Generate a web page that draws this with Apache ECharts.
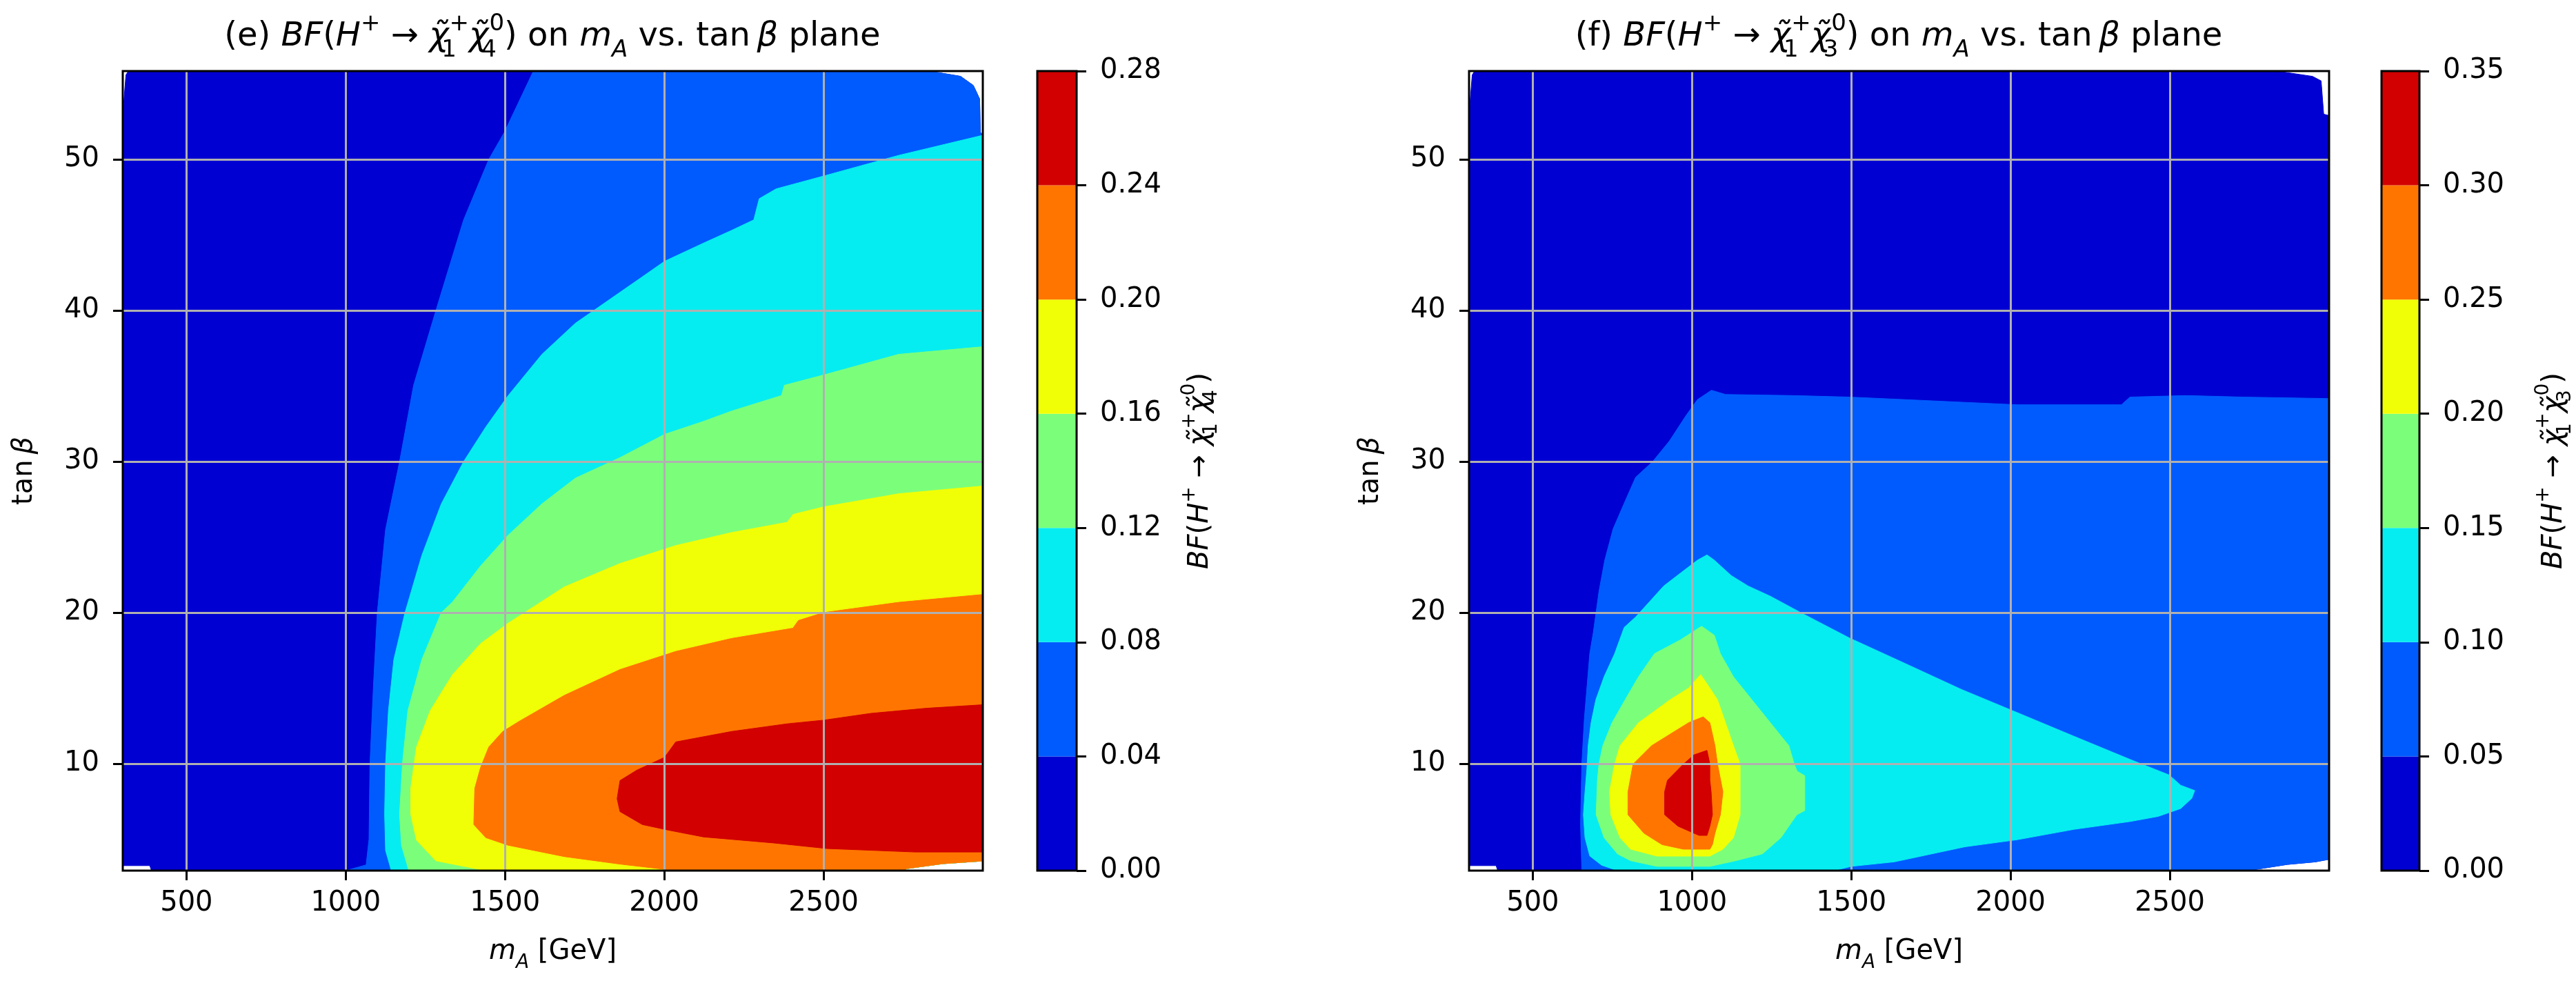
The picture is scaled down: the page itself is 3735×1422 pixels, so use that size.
<!DOCTYPE html>
<html>
<head>
<meta charset="utf-8">
<script src="https://cdn.jsdelivr.net/npm/echarts@6/dist/echarts.min.js"></script>
<style>
    html, body { margin: 0; padding: 0; background: #fff; }
    #main { width: 3735px; height: 1422px; }
</style>
</head>
<body>
<div id="main"></div>
<script>
// 色带 (jet, 7 段)
const bandColors = ['#0000d2', '#005bff', '#06edf1', '#7bff7b', '#f1ff06', '#ff7500', '#d20000'];
const levelsE = [0, 0.04, 0.08, 0.12, 0.16, 0.20, 0.24, 0.28];
const levelsF = [0, 0.05, 0.10, 0.15, 0.20, 0.25, 0.30, 0.35];
const xTicks = [500, 1000, 1500, 2000, 2500];
const yTicks = [10, 20, 30, 40, 50];

// (e) 等高线区域边界 [mA, tanβ]，BF >= 各级
const eBase = [[318, 55.85], [2831, 55.85], [2930, 55.5], [2970, 54.9], [2990, 54.0], [2992, 51.8], [3000, 51.6],
    [3000, 3.56], [2875, 3.38], [2760, 3.05], [2753, 2.92], [390, 2.92], [385, 3.25], [302, 3.25], [302, 53.5], [310, 55.6]];
const e004 = [[1589, 55.85], [1498, 51.8], [1449, 50], [1370, 46.0], [1283, 40], [1213, 35.05], [1169, 30], [1125, 25.5],
    [1099, 20], [1087, 15.2], [1076, 10], [1073, 5.0], [1064, 3.3], [1000, 2.92], [2753, 2.92], [2760, 3.05], [2875, 3.38],
    [3000, 3.56], [3000, 51.6], [2992, 51.8], [2990, 54.0], [2970, 54.9], [2930, 55.5], [2831, 55.85]];
const e008 = [[3000, 51.6], [2736, 50.27], [2500, 48.9], [2351, 48.05], [2298, 47.4], [2281, 46.0], [2211, 45.3], [2123, 44.46],
    [2001, 43.26], [1931, 42.23], [1791, 40.18], [1721, 39.16], [1616, 37.1], [1510, 34.37], [1440, 32.3], [1370, 30],
    [1300, 27.2], [1239, 23.8], [1186, 20], [1151, 16.9], [1134, 13.5], [1125, 10], [1122, 6.65], [1125, 4.26], [1143, 2.92],
    [2753, 2.92], [2760, 3.05], [2875, 3.38], [3000, 3.56]];
const e012 = [[3000, 37.6], [2736, 37.1], [2500, 35.73], [2377, 35.05], [2368, 34.37], [2211, 33.34], [2123, 32.66],
    [2001, 31.8], [1861, 30.26], [1721, 28.9], [1616, 27.2], [1510, 25.13], [1423, 23.08], [1335, 20.7], [1300, 20],
    [1239, 16.9], [1195, 13.5], [1178, 10], [1169, 6.65], [1175, 4.6], [1198, 2.92],
    [2753, 2.92], [2760, 3.05], [2875, 3.38], [3000, 3.56]];
const e016 = [[3000, 28.38], [2736, 27.87], [2500, 27.0], [2404, 26.5], [2386, 25.98], [2211, 25.3], [2036, 24.44],
    [1861, 23.25], [1686, 21.7], [1510, 19.3], [1423, 17.94], [1335, 15.89], [1265, 13.5], [1222, 11.1], [1204, 8.36],
    [1204, 6.65], [1222, 4.94], [1283, 3.57], [1440, 2.92],
    [2753, 2.92], [2760, 3.05], [2875, 3.38], [3000, 3.56]];
const e020 = [[3000, 21.2], [2736, 20.68], [2500, 20.0], [2421, 19.48], [2404, 18.97], [2211, 18.29], [2036, 17.43],
    [1861, 16.23], [1686, 14.52], [1545, 12.81], [1493, 12.13], [1449, 11.1], [1423, 9.73], [1405, 8.36], [1402, 5.97],
    [1440, 5.1], [1510, 4.6], [1686, 3.85], [1861, 3.35], [2036, 2.92],
    [2753, 2.92], [2760, 3.05], [2875, 3.38], [3000, 3.56]];
const e024 = [[3000, 13.9], [2824, 13.67], [2649, 13.33], [2500, 12.88], [2386, 12.64], [2211, 12.13], [2036, 11.44],
    [2001, 10.42], [1913, 9.56], [1861, 8.88], [1852, 7.68], [1861, 6.83], [1931, 5.97], [2013, 5.6], [2123, 5.15],
    [2344, 4.75], [2511, 4.38], [2788, 4.15], [3000, 4.15]];

// (f) 等高线区域边界
const fBase = [[318, 55.86], [2833, 55.86], [2948, 55.5], [2975, 55.2], [2983, 53.0], [3000, 52.9],
    [3000, 3.67], [2957, 3.5], [2869, 3.33], [2745, 2.92], [390, 2.92], [385, 3.25], [302, 3.25], [302, 53.5], [310, 55.6]];
const f005 = [[654, 2.92], [650, 6], [654, 10], [662, 13], [679, 17.3], [690, 18.68], [708, 21.42], [726, 23.47],
    [752, 25.53], [787, 27.24], [823, 28.96], [876, 29.99], [929, 31.36], [982, 33.07], [1017, 34.1], [1061, 34.72],
    [1105, 34.44], [1317, 34.37], [1493, 34.27], [1670, 34.1], [1846, 33.93], [2022, 33.76], [2198, 33.76], [2348, 33.76],
    [2375, 34.27], [2551, 34.37], [2728, 34.27], [3000, 34.17], [3000, 3.67], [2957, 3.5], [2869, 3.33], [2745, 2.92]];
const f010 = [[766, 2.92], [716, 3.28], [679, 3.89], [664, 5.1], [659, 6.62], [664, 8.14], [670, 9.67], [674, 11.2],
    [683, 12.71], [698, 14.23], [724, 15.76], [757, 17.28], [787, 19.02], [823, 19.71], [867, 20.73], [911, 21.76],
    [964, 22.62], [1017, 23.47], [1047, 23.82], [1070, 23.47], [1123, 22.45], [1176, 21.76], [1246, 21.08], [1352, 19.88],
    [1493, 18.33], [1670, 16.62], [1846, 14.91], [2022, 13.37], [2198, 11.82], [2375, 10.28], [2498, 9.25], [2534, 8.57],
    [2578, 8.22], [2569, 7.71], [2534, 7.03], [2463, 6.51], [2375, 6.17], [2198, 5.65], [2022, 4.97], [1857, 4.5],
    [1635, 3.5], [1500, 3.2], [1445, 2.92]];
const f015 = [[1030, 19.1], [1070, 18.5], [1089, 17.28], [1130, 15.75], [1188, 14.23], [1246, 12.71], [1304, 11.19],
    [1321, 9.97], [1330, 9.5], [1354, 9.2], [1354, 6.9], [1329, 6.62], [1279, 5.1], [1221, 4.03], [1138, 3.58], [1056, 3.2],
    [890, 3.2], [807, 3.58], [766, 4.03], [724, 5.1], [699, 6.62], [703, 8.9], [708, 9.97], [720, 11.19], [749, 12.71],
    [790, 14.23], [832, 15.75], [882, 17.28], [964, 18.2]];
const f020 = [[1027, 15.9], [1056, 15.0], [1080, 14.23], [1105, 12.71], [1130, 11.19], [1151, 9.97], [1151, 8.14],
    [1151, 6.62], [1130, 5.1], [1097, 4.34], [1056, 3.88], [890, 3.88], [807, 4.34], [774, 5.1], [745, 6.62], [741, 8.14],
    [757, 9.97], [774, 11.19], [832, 12.71], [931, 14.23], [989, 15.0]];
const f025 = [[1035, 13.1], [1056, 12.71], [1072, 11.19], [1080, 9.97], [1097, 8.14], [1089, 6.62], [1072, 5.4],
    [1064, 4.64], [1056, 4.34], [973, 4.34], [906, 4.64], [849, 5.4], [799, 6.62], [799, 8.14], [815, 9.97], [873, 11.19],
    [989, 12.71]];
const f030 = [[1047, 10.88], [1056, 9.97], [1056, 8.9], [1060, 8.14], [1064, 6.62], [1056, 5.86], [1047, 5.25],
    [1022, 5.25], [956, 5.86], [914, 6.62], [914, 8.14], [923, 8.9], [973, 9.97], [1006, 10.58]];

const polysE = [eBase, e004, e008, e012, e016, e020, e024];
const polysF = [fBase, f005, f010, f015, f020, f025, f030];

const FONT = 'DejaVu Sans';

// 富文本样式 (上下标)
function richStyles(fs) {
    const lh = Math.round(fs * 1.5);
    const small = Math.round(fs * 0.7);
    const slh = lh - Math.round(fs * 0.66);
    const base = { fontFamily: FONT, color: '#000' };
    return {
        n: Object.assign({ fontSize: fs, lineHeight: lh }, base),
        i: Object.assign({ fontSize: fs, lineHeight: lh, fontStyle: 'italic' }, base),
        sup: Object.assign({ fontSize: small, lineHeight: slh, verticalAlign: 'top' }, base),
        subw: Object.assign({ fontSize: small, lineHeight: slh, verticalAlign: 'bottom', width: 1 }, base),
        subi: Object.assign({ fontSize: small, lineHeight: slh, verticalAlign: 'bottom', fontStyle: 'italic' }, base)
    };
}

function bfText(n) {
    return '{i|BF}{n|(}{i|H}{sup|+}{n| → }{i|χ\u0303}{subw|1}{sup|+}{i|χ\u0303}{subw|' + n + '}{sup|0}{n|)}';
}

const titleE = '{n|(e) }' + bfText(4) + '{n| on }{i|m}{subi|A}{n| vs. tan}{i|\u2009β}{n| plane}';
const titleF = '{n|(f) }' + bfText(3) + '{n| on }{i|m}{subi|A}{n| vs. tan}{i|\u2009β}{n| plane}';

const tickStyle = { show: true, length: 14, inside: false, lineStyle: { color: '#000', width: 3 } };

function plotXAxis(gridIndex) {
    return {
        type: 'value', gridIndex, min: 300, max: 3000, z: 5,
        name: '{i|m}{subi|A}{n| [GeV]}', nameLocation: 'middle', nameGap: 88,
        nameTextStyle: { rich: richStyles(40) },
        axisLine: { show: false },
        axisTick: Object.assign({ customValues: xTicks }, tickStyle),
        axisLabel: { customValues: xTicks, fontSize: 40, fontFamily: FONT, color: '#000', margin: 28, formatter: v => String(v) },
        splitLine: { show: true, lineStyle: { color: '#b0b0b0', width: 3 } }
    };
}

function plotYAxis(gridIndex) {
    return {
        type: 'value', gridIndex, min: 2.92, max: 55.85, z: 5,
        name: '{n|tan}{i|\u2009β}', nameLocation: 'middle', nameGap: 112, nameRotate: 90,
        nameTextStyle: { rich: richStyles(40) },
        axisLine: { show: false },
        axisTick: Object.assign({ customValues: yTicks }, tickStyle),
        axisLabel: { customValues: yTicks, fontSize: 40, fontFamily: FONT, color: '#000', margin: 34, formatter: v => String(v) },
        splitLine: { show: true, lineStyle: { color: '#b0b0b0', width: 3 } }
    };
}

function cbYAxis(gridIndex, levels, n, gap) {
    return {
        type: 'value', gridIndex, position: 'right', min: 0, max: levels[levels.length - 1],
        interval: levels[1] - levels[0], z: 5,
        name: bfText(n), nameLocation: 'middle', nameGap: gap, nameRotate: 90,
        nameTextStyle: { rich: richStyles(40) },
        axisLine: { show: false },
        axisTick: tickStyle,
        axisLabel: { fontSize: 40, fontFamily: FONT, color: '#000', margin: 34, formatter: v => v.toFixed(2) },
        splitLine: { show: false }
    };
}

function contourSeries(polys, axisIndex) {
    return {
        type: 'custom', xAxisIndex: axisIndex, yAxisIndex: axisIndex, silent: true,
        data: polys.map((p, i) => [p[0][0], p[0][1], i]),
        renderItem: function (params, api) {
            const i = params.dataIndex;
            return {
                type: 'polygon',
                shape: { points: polys[i].map(p => api.coord(p)) },
                style: { fill: bandColors[i], stroke: bandColors[i], lineWidth: 1 }
            };
        }
    };
}

function colorbarSeries(levels, axisIndex, stack) {
    return levels.slice(1).map((v, i) => ({
        type: 'bar', xAxisIndex: axisIndex, yAxisIndex: axisIndex, stack, barWidth: '100%', silent: true,
        data: [v - levels[i]],
        itemStyle: { color: bandColors[i] }
    }));
}

const gridBox = { show: true, borderColor: '#000', borderWidth: 3, z: 6, backgroundColor: 'transparent' };

let myChart = echarts.init(document.getElementById('main'));
let option = {
    animation: false,
    backgroundColor: '#fff',
    grid: [
        Object.assign({ left: 178, top: 103, width: 1247, height: 1159 }, gridBox),
        Object.assign({ left: 1504, top: 103, width: 57, height: 1159 }, gridBox),
        Object.assign({ left: 2130, top: 103, width: 1247, height: 1159 }, gridBox),
        Object.assign({ left: 3453, top: 103, width: 57, height: 1159 }, gridBox)
    ],
    xAxis: [
        plotXAxis(0),
        { type: 'category', gridIndex: 1, data: ['cb'], show: false },
        plotXAxis(2),
        { type: 'category', gridIndex: 3, data: ['cb'], show: false }
    ],
    yAxis: [
        plotYAxis(0),
        cbYAxis(1, levelsE, 4, 150),
        plotYAxis(2),
        cbYAxis(3, levelsF, 3, 166)
    ],
    graphic: [
        { type: 'text', x: 801, y: 54, style: { text: titleE, rich: richStyles(48), align: 'center', verticalAlign: 'middle' } },
        { type: 'text', x: 2753, y: 54, style: { text: titleF, rich: richStyles(48), align: 'center', verticalAlign: 'middle' } }
    ],
    series: [
        contourSeries(polysE, 0),
        contourSeries(polysF, 2)
    ].concat(colorbarSeries(levelsE, 1, 'cbE'), colorbarSeries(levelsF, 3, 'cbF'))
};
myChart.setOption(option);
</script>
</body>
</html>
